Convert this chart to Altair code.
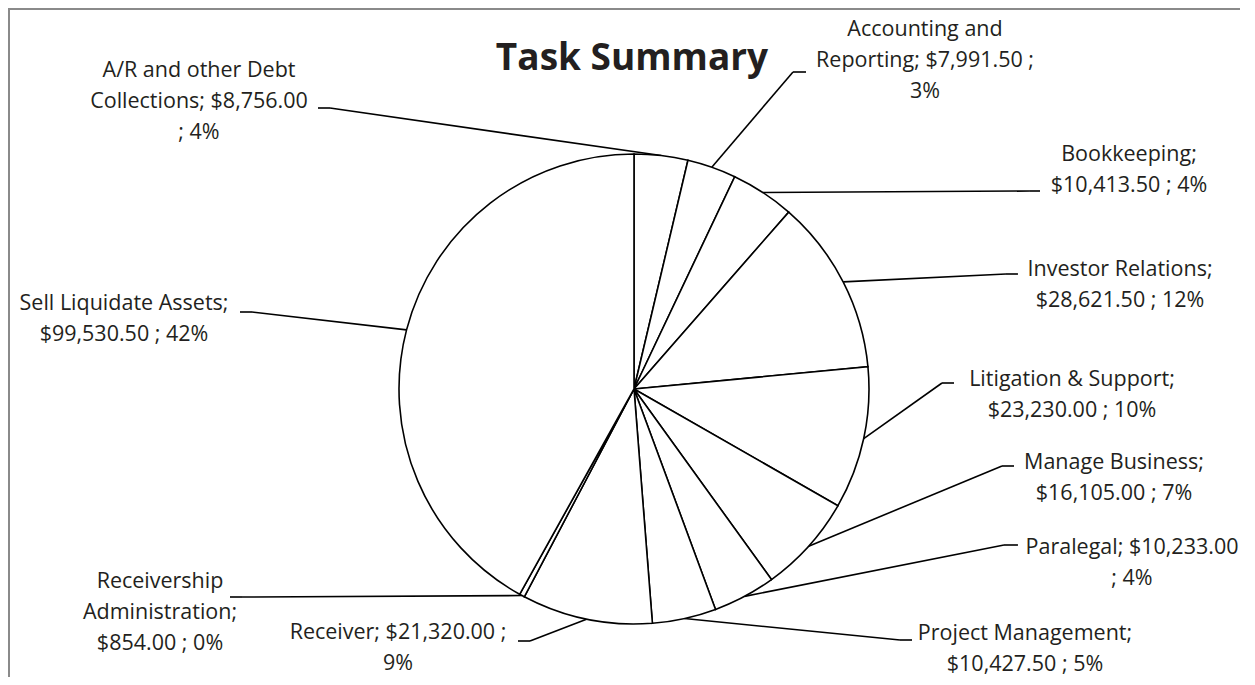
import altair as alt
import pandas as pd

# ---------------- data ----------------
categories = [
    "A/R and other Debt Collections", "Accounting and Reporting", "Bookkeeping",
    "Investor Relations", "Litigation & Support", "Manage Business", "Paralegal",
    "Project Management", "Receiver", "Receivership Administration", "Sell Liquidate Assets",
]
amounts = [8756.00, 7991.50, 10413.50, 28621.50, 23230.00, 16105.00,
           10233.00, 10427.50, 21320.00, 854.00, 99530.50]
percent_labels = ["4%", "3%", "4%", "12%", "10%", "7%", "4%", "5%", "9%", "0%", "42%"]
title_text = "Task Summary"

# ---------------- layout (page pixel coordinates) ----------------
words_per_line = [[4, 2, 2], [2, 3, 1], [1, 3], [2, 3], [3, 3], [2, 3],
                  [2, 2], [2, 3], [3, 1], [1, 1, 3], [3, 3]]
label_x = [199, 925, 1129, 1120, 1072, 1114, 1132, 1025, 398, 160, 124]
label_y = [71, 30, 155, 270, 380, 463, 548, 634, 633, 582, 304]   # first-line centres
stub_out = [318, 806, 1040, 1018, 954, 1014, 1018, 912, 518, 230, 240]
stub_in = [330, 793, 1030, 1006, 942, 1002, 1004, 900, 530, 242, 252]
stub_y = [108, 72, 191, 274, 383, 466, 545, 640, 641, 597, 312]
CX, CY, R = 634, 389, 235
W, H = 1232, 669


def make_label(cat, amt, pct, counts):
    tokens = f"{cat}; ${amt:,.2f} ; {pct}".split(" ")
    lines, i = [], 0
    for c in counts:
        lines.append(" ".join(tokens[i:i + c]))
        i += c
    return "\n".join(lines)


labels = [make_label(c, a, p, w) for c, a, p, w in
          zip(categories, amounts, percent_labels, words_per_line)]

df = pd.DataFrame({
    "idx": list(range(len(categories))),
    "category": categories,
    "amount": amounts,
    "label": labels,
    "lx": label_x, "ly": label_y,
    "sx0": stub_out, "sx1": stub_in, "sy": stub_y,
})

xs = alt.Scale(domain=[8, 8 + W], nice=False, zero=False)
ys = alt.Scale(domain=[8 + H, 8], nice=False, zero=False)

base = (
    alt.Chart(df)
    .transform_joinaggregate(total="sum(amount)")
    .transform_window(cum="sum(amount)", sort=[alt.SortField("idx")], frame=[None, 0])
    .transform_calculate(
        mid="(datum.cum - datum.amount / 2) / datum.total",
    )
    .transform_calculate(
        px=f"{CX} + {R} * sin(2 * PI * datum.mid)",
        py=f"{CY} - {R} * cos(2 * PI * datum.mid)",
    )
)

pie = alt.Chart(df).mark_arc(
    radius=R, fill="white", stroke="black", strokeWidth=1.6
).encode(
    theta=alt.Theta("amount:Q", stack=True),
    order=alt.Order("idx:Q"),
    x=alt.value(CX - 8),
    y=alt.value(CY - 8),
)

stubs = base.mark_rule(color="black", strokeWidth=1.6).encode(
    x=alt.X("sx0:Q", scale=xs, axis=None),
    x2="sx1:Q",
    y=alt.Y("sy:Q", scale=ys, axis=None),
    y2="sy:Q",
)

leaders = base.mark_rule(color="black", strokeWidth=1.6).encode(
    x=alt.X("sx1:Q", scale=xs, axis=None),
    x2="px:Q",
    y=alt.Y("sy:Q", scale=ys, axis=None),
    y2="py:Q",
)

texts = base.mark_text(
    lineBreak="\n", align="center", baseline="middle",
    font="Open Sans", fontSize=21.5, lineHeight=31, color="#231f20",
).encode(
    x=alt.X("lx:Q", scale=xs, axis=None),
    y=alt.Y("ly:Q", scale=ys, axis=None),
    text="label:N",
)

title = alt.Chart(pd.DataFrame({"t": [title_text]})).mark_text(
    font="Open Sans", fontWeight="bold", fontSize=37, color="#231f20",
    align="center", baseline="alphabetic",
).encode(
    x=alt.value(632 - 8), y=alt.value(70 - 8), text="t:N"
)

frame_left = alt.Chart(pd.DataFrame({"a": [0]})).mark_rule(
    color="#8a8a8a", strokeWidth=2
).encode(x=alt.value(1), y=alt.value(0), y2=alt.value(H))

frame_top = alt.Chart(pd.DataFrame({"a": [0]})).mark_rule(
    color="#8a8a8a", strokeWidth=2
).encode(x=alt.value(0), x2=alt.value(W), y=alt.value(1))

chart = (
    alt.layer(frame_left, frame_top, stubs, leaders, pie, texts, title)
    .properties(width=W, height=H, padding=0, autosize="none")
    .configure_view(stroke=None, strokeWidth=0)
)

chart.save("out.html", embed_options={"renderer": "svg", "actions": False})
